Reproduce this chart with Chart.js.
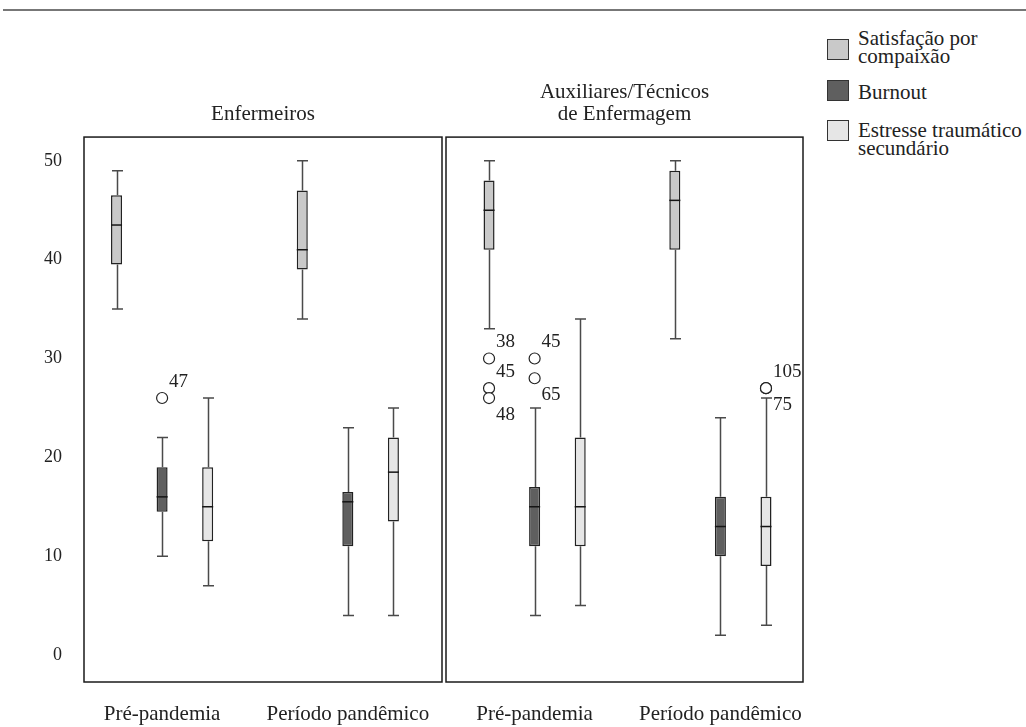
<!DOCTYPE html>
<html>
<head>
<meta charset="utf-8">
<script src="https://cdn.jsdelivr.net/npm/chart.js@4.4.1/dist/chart.umd.min.js"></script>
<style>
  html, body { margin: 0; padding: 0; background: #fff; }
  body { width: 1026px; height: 727px; position: relative; overflow: hidden; font-family: "Liberation Serif", serif; color: #222; }
  #rule { position: absolute; left: 3px; right: 0; top: 9px; height: 2px; background: #777; }
  #c1 { position: absolute; left: 0; top: 0; }
  #c2 { position: absolute; left: 440px; top: 0; }
  #legend { position: absolute; left: 827px; top: 0; font-size: 21px; line-height: 18.5px; }
  .sw { position: absolute; left: 0; width: 22px; height: 21px; border: 1.5px solid #333; box-sizing: border-box; }
  .lbl { position: absolute; left: 31px; white-space: nowrap; }
</style>
</head>
<body>
<div id="rule"></div>
<canvas id="c1" width="446" height="727"></canvas>
<canvas id="c2" width="370" height="727"></canvas>
<div id="legend"></div>
<script>
// categories and series
const groups = ["Pré-pandemia", "Período pandêmico"];
const seriesNames = [["Satisfação por", "compaixão"], ["Burnout"], ["Estresse traumático", "secundário"]];
const panelTitles = ["Enfermeiros", ["Auxiliares/Técnicos", "de Enfermagem"]];
const yTicks = [0, 10, 20, 30, 40, 50];

// [min, q1, median, q3, max] per group
const enfSC = [[35, 39.5, 43.5, 46.5, 49], [34, 39, 41, 47, 50]];
const enfBO = [[10, 14.5, 16, 19, 22], [4, 11, 15.5, 16.5, 23]];
const enfSTS = [[7, 11.5, 15, 19, 26], [4, 13.5, 18.5, 22, 25]];

const auxSC = [[33, 41, 45, 48, 50], [32, 41, 46, 49, 50]];
const auxBO = [[4, 11, 15, 17, 25], [2, 10, 13, 16, 24]];
const auxSTS = [[5, 11, 15, 22, 34], [3, 9, 13, 16, 26]];

// outliers: series index, group index, value, case id
const enfOutliers = [
  { series: 1, group: 0, value: 26, id: "47", side: "up" }
];
const auxOutliers = [
  { series: 0, group: 0, value: 30, id: "38", side: "up" },
  { series: 0, group: 0, value: 27, id: "45", side: "up" },
  { series: 0, group: 0, value: 26, id: "48", side: "down" },
  { series: 1, group: 0, value: 30, id: "45", side: "up" },
  { series: 1, group: 0, value: 28, id: "65", side: "down" },
  { series: 2, group: 1, value: 27, id: "105", side: "up" },
  { series: 2, group: 1, value: 27, id: "75", side: "down" }
];

const fills = ["#c9c9c9", "#5f5f5f", "#e6e6e6"];
const FONT = "Liberation Serif";

// whiskers, medians, outliers and frame
const boxParts = {
  id: "boxParts",
  afterDatasetsDraw(chart, args, opts) {
    const ctx = chart.ctx;
    const y = chart.scales.y;
    ctx.save();
    chart.data.datasets.forEach((ds, di) => {
      const meta = chart.getDatasetMeta(di);
      meta.data.forEach((bar, gi) => {
        const [lo, q1, med, q3, hi] = ds.stats[gi];
        const cx = Math.round(bar.x) + 0.5;
        const half = bar.width / 2;
        ctx.strokeStyle = "#4a4a4a";
        ctx.lineWidth = 1.5;
        ctx.beginPath();
        ctx.moveTo(cx, y.getPixelForValue(q3));
        ctx.lineTo(cx, y.getPixelForValue(hi));
        ctx.moveTo(cx, y.getPixelForValue(q1));
        ctx.lineTo(cx, y.getPixelForValue(lo));
        ctx.moveTo(cx - half, y.getPixelForValue(hi));
        ctx.lineTo(cx + half, y.getPixelForValue(hi));
        ctx.moveTo(cx - half, y.getPixelForValue(lo));
        ctx.lineTo(cx + half, y.getPixelForValue(lo));
        ctx.stroke();
        ctx.strokeStyle = "#151515";
        ctx.beginPath();
        ctx.moveTo(bar.x - half, y.getPixelForValue(med));
        ctx.lineTo(bar.x + half, y.getPixelForValue(med));
        ctx.stroke();
      });
    });

    ctx.font = "19px '" + FONT + "'";
    ctx.textAlign = "left";
    ctx.textBaseline = "middle";
    (opts.outliers || []).forEach(o => {
      const bar = chart.getDatasetMeta(o.series).data[o.group];
      const py = y.getPixelForValue(o.value);
      ctx.beginPath();
      ctx.arc(bar.x, py, 5.5, 0, Math.PI * 2);
      ctx.fillStyle = "#fff";
      ctx.fill();
      ctx.strokeStyle = "#222";
      ctx.lineWidth = 1.2;
      ctx.stroke();
      ctx.fillStyle = "#222";
      ctx.fillText(o.id, bar.x + 7, py + (o.side === "up" ? -16 : 17));
    });
    ctx.restore();
  },
  afterDraw(chart) {
    const { left, top, right, bottom } = chart.chartArea;
    const ctx = chart.ctx;
    ctx.save();
    ctx.strokeStyle = "#1a1a1a";
    ctx.lineWidth = 1.5;
    ctx.strokeRect(left, top, right - left, bottom - top);
    ctx.restore();
  }
};

function makeChart(id, stats, outliers, title, titlePadTop, showY, xRange, pad) {
  const datasets = stats.map((s, si) => ({
    label: seriesNames[si].join(" "),
    data: groups.map((g, gi) => ({ x: gi, y: [s[gi][1], s[gi][3]] })),
    stats: s,
    backgroundColor: fills[si],
    borderColor: "#222",
    borderWidth: 1.5,
    borderSkipped: false,
    categoryPercentage: 0.736,
    barPercentage: 0.242
  }));

  return new Chart(document.getElementById(id), {
    type: "bar",
    data: { datasets },
    plugins: [boxParts],
    options: {
      responsive: false,
      animation: false,
      devicePixelRatio: 1,
      layout: { padding: pad },
      plugins: {
        legend: { display: false },
        tooltip: { enabled: false },
        title: {
          display: true,
          text: title,
          fullSize: false,
          color: "#222",
          font: { family: FONT, size: 21, weight: "normal", lineHeight: 1.05 },
          padding: { top: titlePadTop, bottom: 12 }
        },
        boxParts: { outliers }
      },
      scales: {
        x: {
          type: "linear",
          min: xRange[0],
          max: xRange[1],
          offset: false,
          grid: { display: false, drawTicks: false },
          border: { display: false },
          afterBuildTicks: axis => { axis.ticks = groups.map((g, i) => ({ value: i })); },
          afterFit: axis => {
            axis.height = 45;
            axis.paddingLeft = 0;
            axis.paddingRight = 0;
          },
          ticks: {
            autoSkip: false,
            maxRotation: 0,
            padding: 20,
            color: "#222",
            font: { family: FONT, size: 21 },
            callback: v => groups[v]
          }
        },
        y: {
          display: showY,
          min: -2.73,
          max: 52.4,
          grid: { display: false, drawTicks: false },
          border: { display: false },
          afterBuildTicks: axis => { axis.ticks = yTicks.map(v => ({ value: v })); },
          afterFit: axis => {
            axis.width = showY ? 84 : 0;
            axis.paddingTop = 0;
            axis.paddingBottom = 0;
          },
          ticks: {
            padding: 22,
            color: "#222",
            font: { family: FONT, size: 18 }
          }
        }
      }
    }
  });
}

makeChart("c1", [enfSC, enfBO, enfSTS], enfOutliers, panelTitles[0], 103, true,
  [-0.4205, 1.507], { left: 0, right: 4, top: 0, bottom: 0 });
makeChart("c2", [auxSC, auxBO, auxSTS], auxOutliers, panelTitles[1], 81, false,
  [-0.477, 1.4446], { left: 6, right: 7, top: 0, bottom: 0 });

// legend
const legendTops = [[39, 28.75], [80, 82.5], [120, 120.75]];
const legend = document.getElementById("legend");
seriesNames.forEach((lines, i) => {
  const sw = document.createElement("div");
  sw.className = "sw";
  sw.style.top = legendTops[i][0] + "px";
  sw.style.background = fills[i];
  legend.appendChild(sw);
  const lbl = document.createElement("div");
  lbl.className = "lbl";
  lbl.style.top = legendTops[i][1] + "px";
  lbl.innerHTML = lines.join("<br>");
  legend.appendChild(lbl);
});
</script>
</body>
</html>
